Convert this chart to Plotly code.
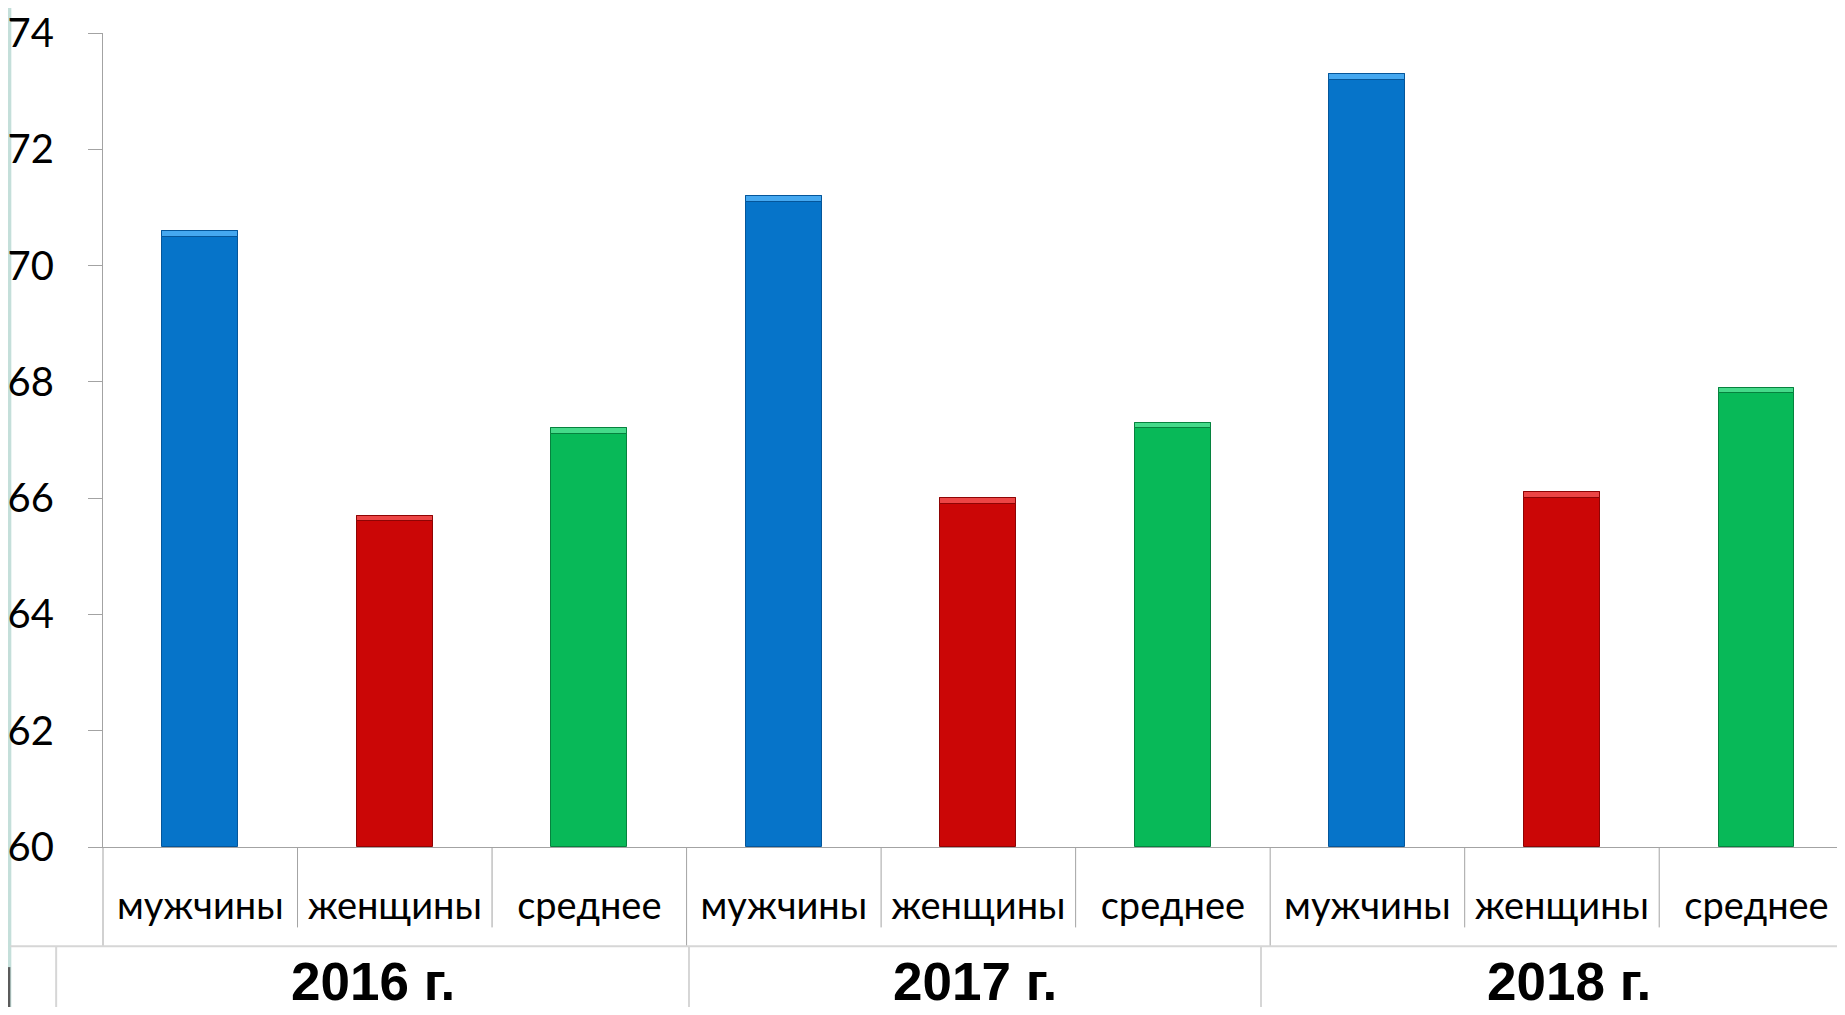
import plotly.graph_objects as go

# ---- data ----
years = ["2016 г.", "2017 г.", "2018 г."]
groups = ["мужчины", "женщины", "среднее"]
men = [70.6, 71.2, 73.3]
women = [65.7, 66.0, 66.1]
average = [67.2, 67.3, 67.9]
y_ticks = [60, 62, 64, 66, 68, 70, 72, 74]

# ---- styling ----
OFF = 8                      # page body margin
W, H = 1845 - 2 * OFF, 1015 - 2 * OFF
PLOT_L, PLOT_T, PLOT_B = 97, 27, 847   # page coordinates of plot area
CAT_W = 195.2                           # px per category
ML, MT = PLOT_L - OFF, PLOT_T - OFF
MB = H - (PLOT_B - OFF)
colors = {"мужчины": "#0674C9", "женщины": "#CB0606", "среднее": "#08B958"}
edge = {"мужчины": "#05569A", "женщины": "#8E0404", "среднее": "#06823E"}
hilite = {"мужчины": "#45A8F0", "женщины": "#EC4545", "среднее": "#45DA8A"}
font_family = "Lato, 'Noto Sans', sans-serif"

series = {"мужчины": men, "женщины": women, "среднее": average}
n_cat = len(years) * len(groups)
plot_w = W - ML
plot_h = H - MT - MB
x_range = [-0.5, -0.5 + plot_w / CAT_W]

fig = go.Figure()
for gi, g in enumerate(groups):
    xs = [yi * len(groups) + gi for yi in range(len(years))]
    vals = series[g]
    fig.add_trace(go.Bar(
        x=xs, y=[v - 60 for v in vals], base=60, width=0.39,
        marker=dict(color=colors[g], line=dict(color=edge[g], width=1)),
        name=g, showlegend=False))
    bev = 0.1
    fig.add_trace(go.Bar(
        x=xs, y=[bev] * len(vals), base=[v - bev for v in vals], width=0.39,
        marker=dict(color=hilite[g], line=dict(color=edge[g], width=1)),
        showlegend=False, hoverinfo="skip"))


def px_x(p):            # page x -> paper
    return (p - PLOT_L) / plot_w

def cat_x(c):
    return (c - x_range[0]) / (x_range[1] - x_range[0])

def px_y(p):            # page y -> paper
    return (PLOT_B - p) / plot_h

shapes = []
axis_col = "#A3A3A3"
light_col = "#D6D6D6"
# left decoration strip
shapes.append(dict(type="rect", xref="paper", yref="paper", x0=px_x(0), x1=px_x(5),
                   y0=px_y(1030), y1=px_y(-10), fillcolor="#C4DFDA", line=dict(width=0), layer="below"))
shapes.append(dict(type="rect", xref="paper", yref="paper", x0=px_x(0), x1=px_x(4),
                   y0=px_y(1030), y1=px_y(968), fillcolor="#5B5B5B", line=dict(width=0), layer="below"))
# y-axis extension down into category area
shapes.append(dict(type="line", xref="paper", yref="paper", x0=0, x1=0,
                   y0=0, y1=px_y(947), line=dict(color=axis_col, width=1)))
# separators between categories
for b in range(n_cat - 1):
    c = b + 0.5
    is_group = (b + 1) % len(groups) == 0
    y_end = 947 if is_group else 928
    shapes.append(dict(type="line", xref="paper", yref="paper", x0=cat_x(c), x1=cat_x(c),
                       y0=0, y1=px_y(y_end), line=dict(color=axis_col, width=1)))
# lower table row
shapes.append(dict(type="line", xref="paper", yref="paper", x0=px_x(4), x1=1.01,
                   y0=px_y(947), y1=px_y(947), line=dict(color=light_col, width=2)))
table_edges = [50, 685, 1259, 1877]
for e in table_edges[:-1]:
    shapes.append(dict(type="line", xref="paper", yref="paper", x0=px_x(e), x1=px_x(e),
                       y0=px_y(947), y1=px_y(1030), line=dict(color=light_col, width=2)))

annotations = []
for i, yr in enumerate(years):
    cx = (table_edges[i] + table_edges[i + 1]) / 2
    annotations.append(dict(text=f"<b>{yr}</b>", xref="paper", yref="paper", x=px_x(cx), y=px_y(982),
                            xanchor="center", yanchor="middle", showarrow=False,
                            font=dict(family="'Liberation Sans Narrow', 'Arial Narrow', 'Liberation Sans', Arial, sans-serif",
                                      size=53, color="#000000")))

fig.update_layout(
    width=W, height=H,
    margin=dict(l=ML, r=0, t=MT, b=MB, pad=0),
    plot_bgcolor="white", paper_bgcolor="white",
    barmode="overlay", bargap=0,
    shapes=shapes, annotations=annotations,
    xaxis=dict(range=x_range, tickvals=list(range(n_cat)),
               ticktext=[groups[i % len(groups)] for i in range(n_cat)],
               showgrid=False, zeroline=False, showline=True, linecolor=axis_col, linewidth=1,
               ticks="", ticklabelstandoff=25,
               tickfont=dict(family=font_family, size=38, color="#000000")),
    yaxis=dict(range=[60, 74], tickvals=y_ticks, showgrid=False, zeroline=False,
               showline=True, linecolor=axis_col, linewidth=1,
               ticks="outside", ticklen=14, tickcolor=axis_col, tickwidth=1,
               ticklabelstandoff=26, ticklabeloverflow="allow",
               tickfont=dict(family=font_family, size=40, color="#000000")),
)

fig.write_html("out.html")
